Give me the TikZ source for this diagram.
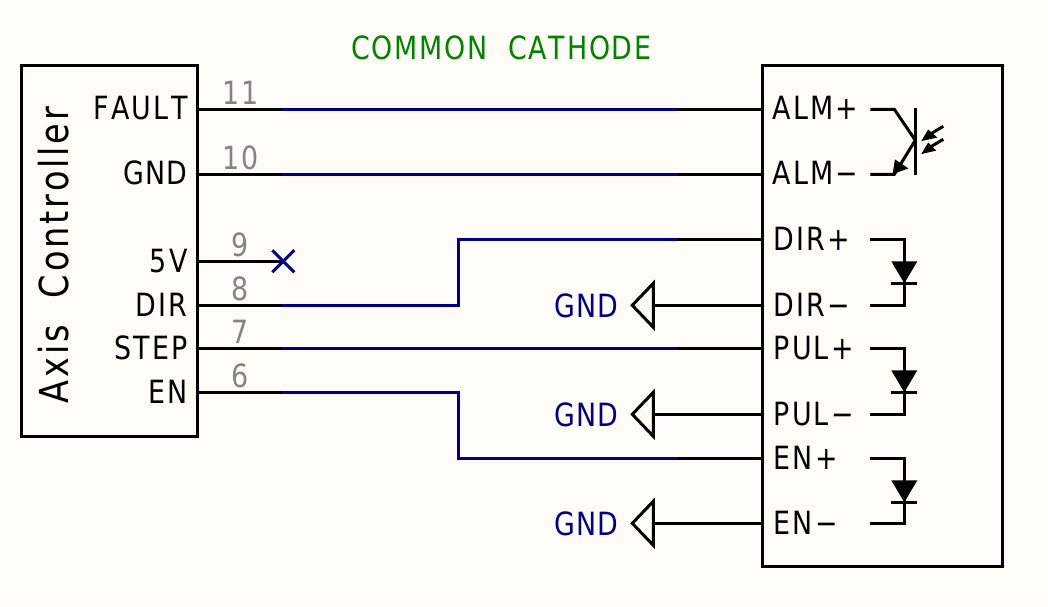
\documentclass[tikz,border=0pt]{standalone}
\usepackage{fontspec}
\setmainfont[FakeStretch=0.84,LetterSpace=7,Kerning=Off]{DejaVu Sans}
\newfontfamily\gndfont[FakeStretch=0.84,LetterSpace=2.5,Kerning=Off]{DejaVu Sans}
\newfontfamily\titlefont[FakeStretch=0.84,LetterSpace=5.5,Kerning=Off]{DejaVu Sans}
\definecolor{bgc}{HTML}{FFFCF8}
\definecolor{wireblue}{HTML}{000084}
\definecolor{pingray}{HTML}{848484}
\definecolor{titlegreen}{HTML}{008400}
\tikzset{
  wire/.style={draw=wireblue,line width=2.25pt,line join=miter},
  lead/.style={draw=black,line width=2.25pt,line join=miter},
  sym/.style={draw=black,line width=2.25pt,line join=miter},
  compbox/.style={draw=black,line width=2.25pt,rectangle,inner sep=0pt},
  lab/.style={font=\fontsize{24pt}{24pt}\selectfont,text=black,inner sep=0pt},
  labr/.style={lab,anchor=base east},
  labl/.style={lab,anchor=base west},
  pinnum/.style={font=\fontsize{24pt}{24pt}\selectfont,text=pingray,inner sep=0pt,anchor=base},
  gndtxt/.style={font=\gndfont\fontsize{24pt}{24pt}\selectfont,text=wireblue,inner sep=0pt,anchor=base east},
  headfill/.style={fill=black,draw=black,line width=0.75pt,line join=miter}
}
\newcommand{\ledsym}[2]{%
  % #1 anode pin, #2 cathode pin
  \coordinate (#1s) at ($(#1)+(108,0)$);
  \coordinate (#1c) at ($(#1)+(142,0)$);
  \coordinate (#2s) at ($(#2)+(108,0)$);
  \coordinate (#2c) at ($(#2)+(142,0)$);
  \draw[sym] (#1s) -- (#1c) -- (#2c) -- (#2s);
  \fill[black] ($(#1c)+(-13,22)$) -- ($(#1c)+(13,22)$) -- ($(#1c)+(0,44)$) -- cycle;
  \draw[sym] ($(#1c)+(-13,44)$) -- ($(#1c)+(13,44)$);
}
\newcommand{\gndsym}[1]{%
  \coordinate (#1g) at ($(#1)+(-109,0)$);
  \draw[sym] (#1) -- (#1g);
  \draw[sym] ($(#1g)+(0,-22)$) -- ($(#1g)+(-21,0)$) -- ($(#1g)+(0,22)$) -- cycle;
  \node[gndtxt] (#1t) at ($(#1g)+(-35,12)$) {GND};
}
\usetikzlibrary{calc}
\begin{document}
\begin{tikzpicture}[x=0.75pt,y=-0.75pt]
\useasboundingbox[fill=bgc] (0,0) rectangle (1048,606);
\begin{scope}[shift={(0.3,0.3)}]

% component boxes
\node[compbox,minimum width=132pt,minimum height=278.25pt] (ctrl) at (109,251) {};
\node[compbox,minimum width=180pt,minimum height=375.75pt] (drv) at (882,315.5) {};

% title
\node[font=\titlefont\fontsize{24pt}{24pt}\selectfont,text=titlegreen,inner sep=0pt,anchor=base] (title) at (501,59) {COMMON\ \ CATHODE};

% controller text
\node[font=\fontsize{30pt}{30pt}\selectfont,inner sep=0pt,anchor=base west,rotate=90] (axis) at (68,403) {Axis\hspace{20pt}Controller};
\node[labr] (lf) at (187.5,119) {FAULT};
\node[labr,font=\gndfont\fontsize{24pt}{24pt}\selectfont] (lg) at (187,184.5) {GND};
\node[labr] (l5) at (187.5,272) {5V};
\node[labr] (ld) at (187.5,316) {DIR};
\node[labr] (ls) at (187.5,359) {STEP};
\node[labr] (le) at (187.5,403) {EN};

% driver text
\node[labl] (alp) at (772,119) {ALM+};
\node[labl] (alm) at (772,184.5) {ALM−};
\node[labl] (dip) at (773,250) {DIR+};
\node[labl] (dim) at (773,316) {DIR−};
\node[labl] (pup) at (773,359) {PUL+};
\node[labl] (pum) at (773,425) {PUL−};
\node[labl] (enp) at (773,469) {EN+};
\node[labl] (enm) at (773,534) {EN−};

% controller pins
\coordinate (c11) at (197,109);
\coordinate (c10) at (197,174);
\coordinate (c9) at (197,261);
\coordinate (c8) at (197,305);
\coordinate (c7) at (197,348);
\coordinate (c6) at (197,392);
% driver pins
\coordinate (r11) at (762,109);
\coordinate (r10) at (762,174);
\coordinate (r8) at (762,239);
\coordinate (rdm) at (762,305);
\coordinate (r7) at (762,348);
\coordinate (rpm) at (762,414);
\coordinate (r6) at (762,458);
\coordinate (rem) at (762,523);

% blue wires
\draw[wire] ($(c11)+(85,0)$) -- ($(r11)+(-84,0)$);
\draw[wire] ($(c10)+(85,0)$) -- ($(r10)+(-84,0)$);
\draw[wire] ($(c8)+(85,0)$) -- (458,305) -- (458,239) -- ($(r8)+(-84,0)$);
\draw[wire] ($(c7)+(85,0)$) -- ($(r7)+(-84,0)$);
\draw[wire] ($(c6)+(85,0)$) -- (458,392) -- (458,458) -- ($(r6)+(-84,0)$);

% black pin stubs
\foreach \p in {c11,c10,c8,c7,c6} \draw[lead] (\p) -- ($(\p)+(85,0)$);
\foreach \p in {r11,r10,r8,r7,r6} \draw[lead] (\p) -- ($(\p)+(-84,0)$);

% no-connect pin
\coordinate (nc) at (283,261);
\draw[lead] (c9) -- (nc);
\draw[wire] ($(nc)+(-11,-11)$) -- ($(nc)+(11,11)$);
\draw[wire] ($(nc)+(-11,11)$) -- ($(nc)+(11,-11)$);

% pin numbers
\node[pinnum] (n11) at (240,104) {11};
\node[pinnum] (n10) at (240,169) {10};
\node[pinnum] (n9) at (240,256) {9};
\node[pinnum] (n8) at (240,300) {8};
\node[pinnum] (n7) at (240,343) {7};
\node[pinnum] (n6) at (240,387) {6};

% GND symbols
\gndsym{rdm}
\gndsym{rpm}
\gndsym{rem}

% LEDs
\ledsym{r8}{rdm}
\ledsym{r7}{rpm}
\ledsym{r6}{rem}

% opto transistor
\coordinate (oc) at (870,109);
\coordinate (oe) at (870,174);
\draw[sym] (oc) -- (894,109) -- (915,140) -- (894,174) -- (oe);
\draw[sym] (915,108) -- (915,175);
\path[headfill] (893,173) -- (895,160) -- (907,168) -- cycle;
\draw[black,line width=2.25pt] (943,126) -- (928,135);
\path[headfill] (922,140) -- (928,130) -- (936,137) -- cycle;
\draw[black,line width=2.25pt] (943,139) -- (928,148);
\path[headfill] (922,153) -- (928,143) -- (935,150) -- cycle;
\end{scope}
\end{tikzpicture}
\end{document}
